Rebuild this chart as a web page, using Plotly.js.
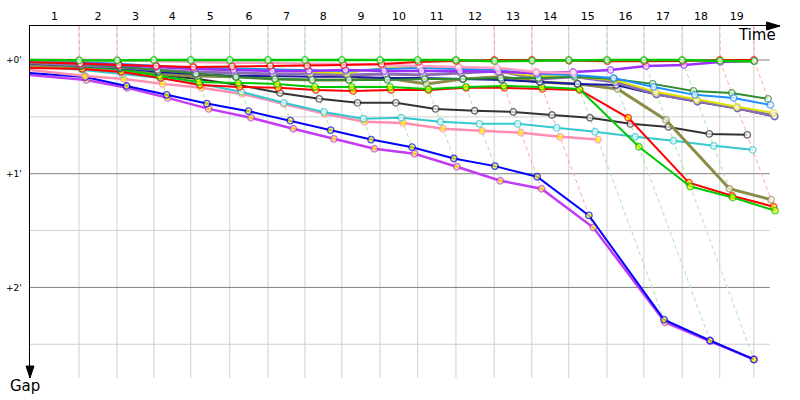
<!DOCTYPE html>
<html>
<head>
<meta charset="utf-8">
<script src="https://cdn.plot.ly/plotly-3.0.1.min.js"></script>
<style>html,body{margin:0;padding:0;background:#fff;}#chart{width:800px;height:400px;}</style>
</head>
<body>
<div id="chart"></div>
<script>
// Leader's lap completion times (seconds), lap 0..19
const lapTimes = [0, 70.4, 125, 178, 231, 287, 342, 395, 448, 503, 557, 612, 667, 721, 774, 829, 882, 937, 991, 1040];
const lapLabels = ['1','2','3','4','5','6','7','8','9','10','11','12','13','14','15','16','17','18','19'];
const gapTicks = [0, 60, 120];
const gapTickText = ["+0'", "+1'", "+2'"];

// Gap to leader (seconds) at each lap, lap 0..n
const gapGreenLeader = [0, 0.3, 0.3, 0, 0, 0, 0, 0, 0, 0, 0, 0, 0.6, 0.4, 0, 0, 0, 0, 0.5, 0.6];
const gapRedTop      = [1.0, 2.0, 2.6, 3.2, 3.7, 3.4, 3.2, 3.2, 2.6, 2.1, 1.0, 0.5, 0, 0, 0.4, 0.6, 0.6, 0.5, 0, 0];
const gapPinkTop     = [0, 0, 0, 0.5, 1.0, 1.5, 1.5, 2.0, 2.1, 2.6, 3.2, 3.7, 4.2, 6.3, 6.8];
const gapViolet      = [0.5, 1.5, 2.6, 3.7, 4.7, 5.3, 5.8, 5.8, 5.3, 5.8, 5.8, 5.8, 6.3, 6.8, 6.3, 5.3, 3.2, 2.6, 1.0, 0.5];
const gapLightBlue   = [0.5, 1.0, 2.0, 3.0, 4.2, 4.5, 5.0, 5.5, 5.8, 4.7, 4.2, 4.7, 5.3, 7.4, 7.9, 9.5, 14.2, 18.4, 20.0, 23.7];
const gapYellow      = [0.8, 1.6, 2.6, 3.7, 4.2, 4.7, 4.7, 6.3, 6.8, 4.2, 3.7, 3.7, 6.3, 8.4, 8.9, 10.5, 16.8, 21.0, 24.7, 27.9];
const gapDarkGreen   = [1.0, 2.0, 3.5, 5.3, 7.4, 9.0, 10.0, 10.5, 10.5, 10.5, 10.0, 10.0, 9.5, 9.5, 8.9, 10.0, 12.6, 16.3, 17.4, 20.5];
const gapLavender    = [1.5, 2.6, 3.7, 5.3, 6.3, 6.8, 7.4, 7.4, 7.9, 7.4, 7.9, 6.8, 5.8, 10.0, 8.9, 11.6, 17.9, 21.6, 25.3, 29.5];
const gapNavy        = [2.0, 3.0, 4.2, 6.3, 7.4, 8.4, 8.4, 8.9, 8.9, 9.5, 9.5, 10.0, 10.5, 11.6, 12.6, 13.2, 18.2, 22.0, 25.6, 29.8];
const gapOlive       = [3.2, 4.2, 5.8, 7.4, 8.4, 8.9, 10.0, 10.5, 10.5, 9.5, 12.6, 10.0, 8.9, 11.6, 12.6, 15.3, 31.6, 67.9, 73.7];
const gapGreen2      = [1.6, 3.2, 4.7, 8.4, 11.6, 12.1, 12.6, 14.2, 14.2, 14.2, 15.3, 14.2, 13.7, 14.2, 15.3, 45.8, 66.8, 72.6, 79.5];
const gapRed2        = [4.2, 4.7, 6.3, 9.5, 13.2, 14.2, 14.7, 15.8, 16.3, 15.8, 15.8, 14.7, 14.7, 15.3, 15.8, 30.5, 64.7, 71.6, 77.4];
const gapBlack       = [3.2, 4.2, 5.8, 7.9, 10.0, 13.2, 17.4, 20.5, 22.6, 22.6, 25.8, 26.8, 27.4, 29.0, 30.5, 33.7, 35.3, 39.0, 39.5];
const gapCyan        = [3.2, 5.3, 7.4, 9.5, 12.6, 16.8, 22.6, 27.4, 31.0, 30.5, 32.6, 33.7, 33.7, 35.8, 37.9, 40.5, 42.6, 45.3, 47.4];
const gapPinkLow     = [5.3, 8.4, 10.0, 12.6, 14.7, 17.9, 23.2, 28.4, 32.6, 33.2, 36.3, 37.4, 38.4, 40.5, 42.0];
const gapPurple      = [7.9, 10.5, 14.7, 20.0, 25.8, 30.5, 36.3, 41.6, 46.8, 49.5, 56.3, 63.7, 67.9, 88.4, 138.4, 148.4, 158.0];
const gapBlue        = [6.8, 9.0, 13.7, 18.4, 23.0, 27.0, 32.0, 37.0, 42.0, 46.0, 52.0, 56.0, 61.6, 82.0, 137.0, 148.0, 158.0];

// Series styling (draw order: first = bottom)
const GREEN_TINT = '#a6e8a6', RED_TINT = '#ffa6a6';
const series = [
  {gaps: gapPurple,    color: '#c23cf5', fill: '#ffff00', width: 2.5, tint: GREEN_TINT},
  {gaps: gapBlue,      color: '#0000ff', fill: '#ffff00', width: 2,   tint: GREEN_TINT},
  {gaps: gapPinkLow,   color: '#ff8fb0', fill: '#ffff00', width: 2.5, tint: RED_TINT},
  {gaps: gapCyan,      color: '#33c9cf', fill: '#ffffff', width: 2,   tint: GREEN_TINT},
  {gaps: gapBlack,     color: '#333333', fill: '#ffffff', width: 2,   tint: GREEN_TINT},
  {gaps: gapOlive,     color: '#8c8c48', fill: '#ffffff', width: 3,   tint: GREEN_TINT},
  {gaps: gapRed2,      color: '#ff0000', fill: '#ffff00', width: 2,   tint: RED_TINT},
  {gaps: gapGreen2,    color: '#00c800', fill: '#ffff00', width: 2,   tint: GREEN_TINT},
  {gaps: gapNavy,      color: '#1a1aa0', fill: '#ffffff', width: 2,   tint: GREEN_TINT},
  {gaps: gapLavender,  color: '#8a70b2', fill: '#ffffff', width: 3,   tint: GREEN_TINT},
  {gaps: gapYellow,    color: '#e2e200', fill: '#ffffff', width: 2,   tint: GREEN_TINT},
  {gaps: gapDarkGreen, color: '#2e8b2e', fill: '#ffffff', width: 2,   tint: GREEN_TINT},
  {gaps: gapLightBlue, color: '#1e90ff', fill: '#ffffff', width: 2,   tint: GREEN_TINT},
  {gaps: gapViolet,    color: '#9b30ff', fill: '#ffffff', width: 2.5, tint: GREEN_TINT},
  {gaps: gapPinkTop,   color: '#ff9cc4', fill: '#ffffff', width: 2.5, tint: RED_TINT},
  {gaps: gapRedTop,    color: '#ff0000', fill: '#ffffff', width: 2,   tint: RED_TINT},
  {gaps: gapGreenLeader, color: '#00c800', fill: '#ffffff', width: 2.5, tint: GREEN_TINT}
];

const X_MAX = 1077.6;          // time range shown
const Y_TOP = -17.94, Y_BOT = 167.8; // gap range (reversed)
const GRID_END = 1063;

const traces = [];

// Lap crossing dashed polylines
for (let k = 1; k < lapTimes.length; k++) {
  const pts = series.filter(s => s.gaps.length > k).map(s => ({g: s.gaps[k], tint: s.tint}));
  if (!pts.length) continue;
  pts.sort((a, b) => a.g - b.g);
  traces.push({
    type: 'scatter', mode: 'lines', hoverinfo: 'skip', showlegend: false,
    x: [lapTimes[k]].concat(pts.map(p => lapTimes[k] + p.g)),
    y: [Y_TOP].concat(pts.map(p => p.g)),
    line: {color: pts[0].tint, width: 1, dash: '4px,3px'}
  });
}

// Driver lines
series.forEach(s => {
  traces.push({
    type: 'scatter', mode: 'lines+markers', hoverinfo: 'skip', showlegend: false,
    x: s.gaps.map((g, k) => k === 0 ? 0 : lapTimes[k] + g),
    y: s.gaps,
    line: {color: s.color, width: s.width},
    marker: {size: s.gaps.map((g, k) => k === 0 ? 0 : 6.5), color: s.fill, line: {color: s.color, width: 1.4}}
  });
});

const shapes = [];
// vertical lap grid
lapTimes.slice(1).forEach(t => shapes.push({type: 'line', xref: 'x', yref: 'paper', x0: t, x1: t, y0: 0, y1: 1,
  line: {color: '#d0d0d0', width: 1}, layer: 'below'}));
// horizontal grid
[30, 90, 150].forEach(v => shapes.push({type: 'line', xref: 'x', yref: 'y', x0: 0, x1: GRID_END, y0: v, y1: v,
  line: {color: '#d0d0d0', width: 1}, layer: 'below'}));
gapTicks.forEach(v => shapes.push({type: 'line', xref: 'x', yref: 'y', x0: 0, x1: GRID_END, y0: v, y1: v,
  line: {color: '#808080', width: 1}, layer: 'below'}));
// arrows
shapes.push({type: 'path', xref: 'paper', yref: 'paper', path: 'M 0.982 1.0114 L 1 1 L 0.982 0.9886 Z',
  fillcolor: '#000', line: {color: '#000', width: 1}});
shapes.push({type: 'path', xref: 'paper', yref: 'paper', path: 'M -0.0053 0.034 L 0 0 L 0.0053 0.034 Z',
  fillcolor: '#000', line: {color: '#000', width: 1}});

const midpoints = lapLabels.map((_, i) => (lapTimes[i] + lapTimes[i + 1]) / 2);

const layout = {
  width: 800, height: 400,
  margin: {l: 30, r: 20, t: 26, b: 22, pad: 0},
  paper_bgcolor: '#fff', plot_bgcolor: '#fff',
  showlegend: false,
  hovermode: false,
  font: {family: 'DejaVu Sans, Verdana, sans-serif', color: '#000'},
  xaxis: {
    side: 'top', range: [0, X_MAX], autorange: false,
    tickmode: 'array', tickvals: midpoints, ticktext: lapLabels,
    showgrid: false, zeroline: false, ticks: '',
    showline: true, linecolor: '#000', linewidth: 1.5,
    tickfont: {size: 11, color: '#000'}
  },
  yaxis: {
    range: [Y_BOT, Y_TOP], autorange: false,
    tickmode: 'array', tickvals: gapTicks, ticktext: gapTickText,
    showgrid: false, zeroline: false, ticks: '',
    showline: true, linecolor: '#000', linewidth: 1.5,
    ticklabelstandoff: 5,
    tickfont: {size: 9, color: '#000'}
  },
  shapes: shapes,
  annotations: [
    {text: 'Time', xref: 'paper', yref: 'paper', x: 0.997, y: 0.974, xanchor: 'right', yanchor: 'middle',
     showarrow: false, font: {size: 15, color: '#000', family: 'DejaVu Sans, sans-serif'}},
    {text: 'Gap', xref: 'paper', yref: 'paper', x: -0.007, y: -0.022, xanchor: 'center', yanchor: 'middle',
     showarrow: false, font: {size: 15, color: '#000', family: 'DejaVu Sans, sans-serif'}}
  ]
};

Plotly.newPlot('chart', traces, layout, {staticPlot: true, displayModeBar: false});
</script>
</body>
</html>
